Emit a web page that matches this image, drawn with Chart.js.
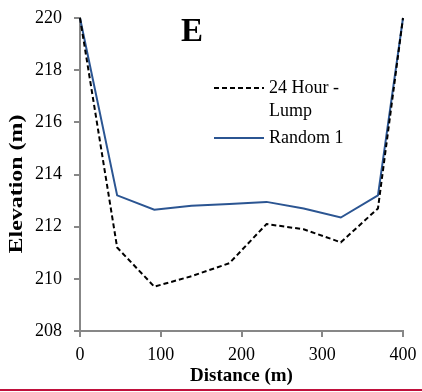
<!DOCTYPE html>
<html>
<head>
<meta charset="utf-8">
<script src="https://cdn.jsdelivr.net/npm/chart.js@4"></script>
<style>
html,body{margin:0;padding:0;background:#fff;}
#wrap{width:422px;height:392px;position:relative;}
</style>
</head>
<body>
<div id="wrap"><canvas id="c" width="422" height="392"></canvas></div>
<script>
const distance = [0, 46, 92, 138, 185, 231, 277, 323, 369, 400];
const lump24 = [220, 211.2, 209.7, 210.1, 210.6, 212.1, 211.9, 211.4, 212.7, 220];
const random1 = [220, 213.2, 212.65, 212.8, 212.87, 212.95, 212.7, 212.35, 213.2, 220];
const seriesNames = ['24 Hour - Lump', 'Random 1'];
const legendLines = [['24 Hour -', 'Lump'], ['Random 1']];
const panelLabel = 'E';
const xTitle = 'Distance (m)';
const yTitle = 'Elevation (m)';

const FONT = "'Liberation Serif', 'Times New Roman', serif";
const AXIS = '#878787';

const toXY = (xs, ys) => xs.map((x, i) => ({x: x, y: ys[i]}));

const extras = {
  id: 'extras',
  afterDraw(chart) {
    const ctx = chart.ctx;
    const area = chart.chartArea;
    ctx.save();
    // panel label
    ctx.fillStyle = '#000';
    ctx.font = "bold 33px " + FONT;
    ctx.textAlign = 'center';
    ctx.textBaseline = 'alphabetic';
    ctx.fillText(panelLabel, 192, 41);
    // x axis title
    ctx.font = "bold 19px " + FONT;
    ctx.fillText(xTitle, (area.left + area.right) / 2, 381);
    // y axis title (stretched along its length as in the reference)
    ctx.save();
    ctx.translate(17, 184);
    ctx.rotate(-Math.PI / 2);
    ctx.scale(1.33, 1);
    ctx.font = "bold 18px " + FONT;
    ctx.textAlign = 'center';
    ctx.textBaseline = 'middle';
    ctx.fillText(yTitle, 0, 0);
    ctx.restore();
    // legend
    const ds = chart.data.datasets;
    const rows = [88, 138];
    ctx.font = "18px " + FONT;
    ctx.textAlign = 'left';
    ctx.textBaseline = 'middle';
    ds.forEach((d, i) => {
      const y = rows[i];
      ctx.beginPath();
      ctx.setLineDash(d.borderDash || []);
      ctx.strokeStyle = d.borderColor;
      ctx.lineWidth = d.borderWidth;
      ctx.moveTo(214, y);
      ctx.lineTo(264, y);
      ctx.stroke();
      ctx.setLineDash([]);
      legendLines[i].forEach((t, j) => {
        ctx.fillText(t, 269, y + j * 23);
      });
    });
    // bottom rule
    ctx.beginPath();
    ctx.strokeStyle = '#c0103c';
    ctx.lineWidth = 2;
    ctx.moveTo(0, 390);
    ctx.lineTo(422, 390);
    ctx.stroke();
    ctx.restore();
  }
};

new Chart(document.getElementById('c'), {
  type: 'line',
  data: {
    datasets: [
      {
        label: seriesNames[0],
        data: toXY(distance, lump24),
        borderColor: '#000',
        borderWidth: 2,
        borderDash: [5, 3],
        pointRadius: 0,
        fill: false,
        tension: 0,
        clip: false
      },
      {
        label: seriesNames[1],
        data: toXY(distance, random1),
        borderColor: '#2b5592',
        borderWidth: 2,
        pointRadius: 0,
        fill: false,
        tension: 0,
        clip: false
      }
    ]
  },
  plugins: [extras],
  options: {
    responsive: false,
    animation: false,
    layout: {padding: {top: 18, right: 19, bottom: 0, left: 0}},
    plugins: {legend: {display: false}, tooltip: {enabled: false}},
    scales: {
      x: {
        type: 'linear',
        min: 0, max: 400,
        afterFit(s) { s.height = 61; s.paddingLeft = 0; s.paddingRight = 0; },
        ticks: {stepSize: 100, color: '#000', font: {family: FONT, size: 18}, padding: 7, maxRotation: 0},
        grid: {drawOnChartArea: false, drawTicks: true, tickLength: 6, color: AXIS, lineWidth: 2},
        border: {color: AXIS, width: 2},
        title: {display: false}
      },
      y: {
        min: 208, max: 220,
        afterFit(s) { s.width = 80; s.paddingTop = 0; s.paddingBottom = 0; },
        ticks: {stepSize: 2, color: '#000', font: {family: FONT, size: 18}, padding: 12},
        grid: {drawOnChartArea: false, drawTicks: true, tickLength: 6, color: AXIS, lineWidth: 2},
        border: {color: AXIS, width: 2},
        title: {display: false}
      }
    }
  }
});
</script>
</body>
</html>
